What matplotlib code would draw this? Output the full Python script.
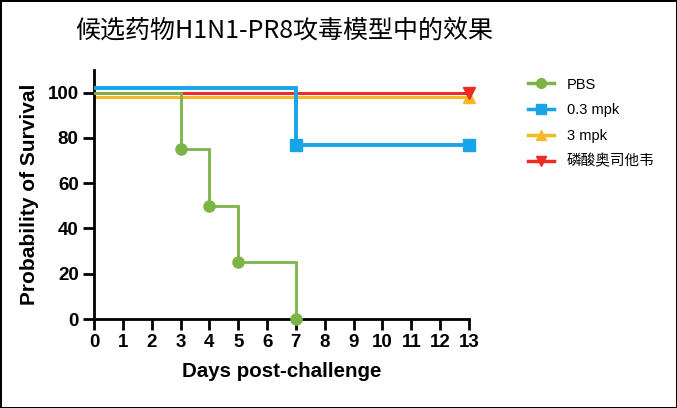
import matplotlib
matplotlib.use("Agg")
import matplotlib.pyplot as plt
from matplotlib.lines import Line2D

plt.rcParams['font.family'] = ['Liberation Sans', 'Noto Sans CJK SC', 'DejaVu Sans']

title = "候选药物H1N1-PR8攻毒模型中的效果"
labels = ["PBS", "0.3 mpk", "3 mpk", "磷酸奥司他韦"]
colors = ["#7db446", "#19a4e8", "#f5b829", "#ee2b24"]
markers = ["o", "s", "^", "v"]

pbs_days = [0, 3, 4, 5, 7]
pbs_surv = [100, 75, 50, 25, 0]
low_days = [0, 7, 13]
low_surv = [102, 77, 77]
mid_days = [0, 13]
mid_surv = [98, 98]
osel_days = [0, 13]
osel_surv = [100, 100]

series = [(pbs_days, pbs_surv), (low_days, low_surv), (mid_days, mid_surv), (osel_days, osel_surv)]
widths = [2.0, 2.8, 2.2, 2.2]
zorders = [3, 4, 2, 2.5]

fig = plt.figure(figsize=(6.77, 4.08), dpi=100)
fig.patch.set_edgecolor('black')
fig.patch.set_linewidth(2)

ax = fig.add_axes([94/677, 1-319/408, (469-94)/677, (319-70)/408])

for (d, s), c, m, lw, z in zip(series, colors, markers, widths, zorders):
    ax.step(d, s, where='post', color=c, lw=lw, zorder=z, solid_joinstyle='miter')
    ax.plot(d[1:], s[1:], linestyle='none', marker=m, color=c, markersize=8, zorder=z + 1, clip_on=False)

ax.set_xlim(0, 13)
ax.set_ylim(0, 110)
ax.set_xticks(range(0, 14))
ax.set_yticks(range(0, 101, 20))
for sp in ['top', 'right']:
    ax.spines[sp].set_visible(False)
for sp in ['left', 'bottom']:
    ax.spines[sp].set_linewidth(2)
ax.tick_params(axis='both', width=2, length=8, labelsize=13.5, pad=3)
for lab in ax.get_xticklabels() + ax.get_yticklabels():
    lab.set_fontweight('bold')
ax.set_xlabel("Days post-challenge", fontsize=14.8, fontweight='bold', labelpad=8)
ax.set_ylabel("Probability of Survival", fontsize=15, fontweight='bold', labelpad=6)

handles = [Line2D([0], [0], color=c, lw=2.5, marker=m, markersize=7) for c, m in zip(colors, markers)]
fig.legend(handles, labels, loc='upper left', bbox_to_anchor=(0.760, 0.842), frameon=False,
           fontsize=10.5, handlelength=1.8, labelspacing=0.8, handletextpad=0.9)

fig.text(0.42, 0.925, title, ha='center', va='center', fontsize=18,
         family=['Noto Sans CJK SC', 'DejaVu Sans'])

fig.savefig("out.png", dpi=100)
